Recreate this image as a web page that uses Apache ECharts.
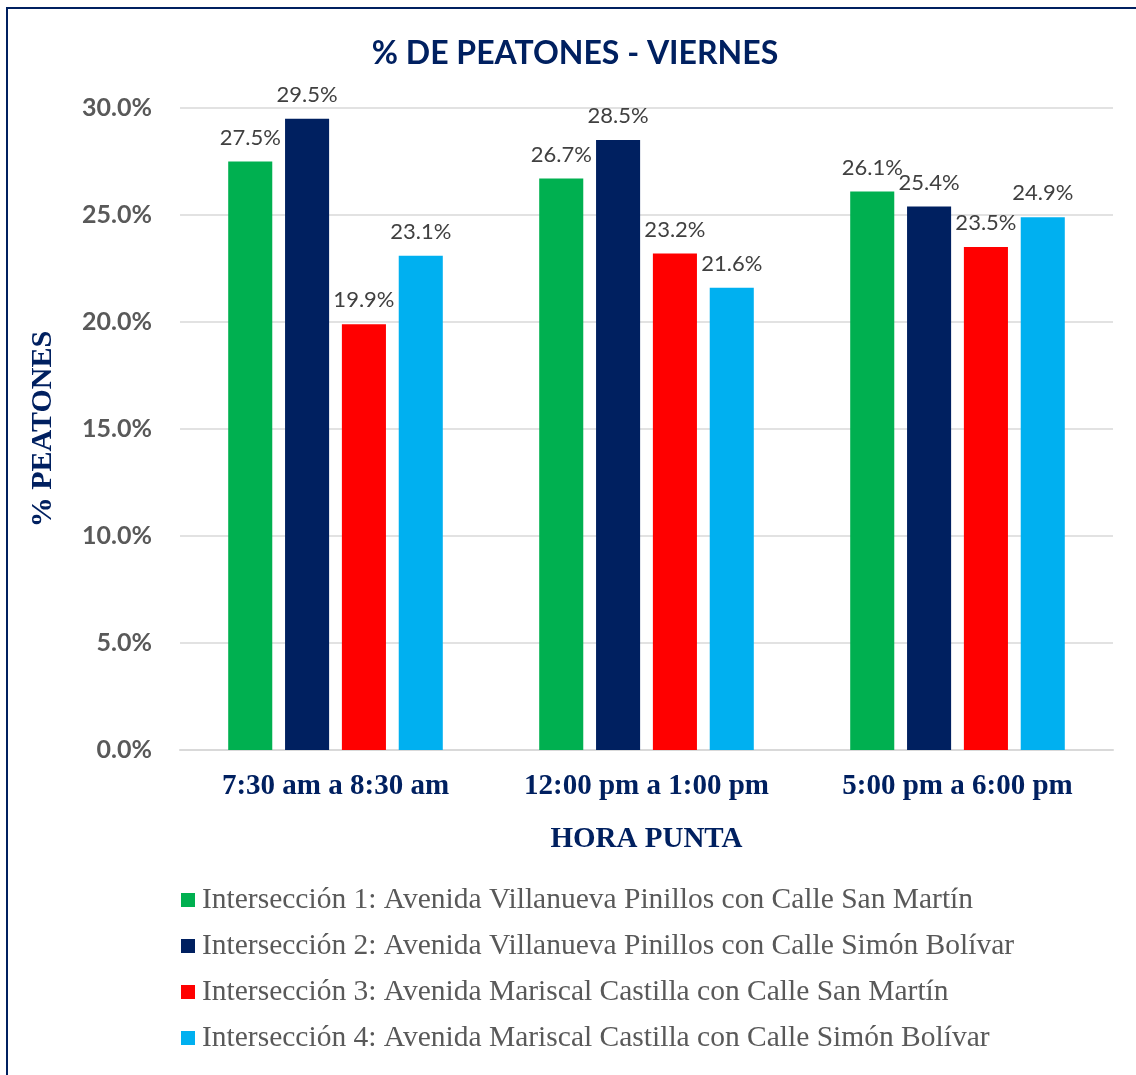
<!DOCTYPE html>
<html>
<head>
<meta charset="utf-8">
<script src="https://cdn.jsdelivr.net/npm/echarts@6/dist/echarts.min.js"></script>
<style>
    html, body { margin: 0; padding: 0; background: #fff; }
    #chart { width: 1136px; height: 1075px; }
</style>
</head>
<body>
<div id="chart"></div>
<script>
    // datos
    const categories = ['7:30 am a 8:30 am', '12:00 pm a 1:00 pm', '5:00 pm a 6:00 pm'];
    const seriesNames = [
        'Intersección 1: Avenida Villanueva Pinillos con Calle San Martín',
        'Intersección 2: Avenida Villanueva Pinillos con Calle Simón Bolívar',
        'Intersección 3: Avenida Mariscal Castilla con Calle San Martín',
        'Intersección 4: Avenida Mariscal Castilla con Calle Simón Bolívar'
    ];
    const inter1 = [27.5, 26.7, 26.1];
    const inter2 = [29.5, 28.5, 25.4];
    const inter3 = [19.9, 23.2, 23.5];
    const inter4 = [23.1, 21.6, 24.9];
    const colors = ['#00b050', '#002060', '#ff0000', '#00b0f0'];

    const allData = [inter1, inter2, inter3, inter4];

    let myChart = echarts.init(document.getElementById('chart'));
    myChart.setOption({
        animation: false,
        color: colors,
        title: {
            text: '% DE PEATONES - VIERNES',
            left: 570,
            top: 33,
            textAlign: 'center',
            textStyle: {
                color: '#002060',
                fontFamily: 'Lato',
                fontWeight: 'bold',
                fontSize: 32
            }
        },
        graphic: [{
            type: 'rect',
            shape: { x: 7, y: 8, width: 1140, height: 1080 },
            style: { fill: 'none', stroke: '#002060', lineWidth: 2 },
            silent: true
        }],
        grid: {
            left: 180,
            right: 23,
            top: 108,
            bottom: 325
        },
        legend: {
            orient: 'vertical',
            left: 176,
            top: 880,
            itemWidth: 14,
            itemHeight: 14,
            itemGap: 16,
            icon: 'rect',
            data: seriesNames,
            textStyle: {
                color: '#595959',
                fontFamily: 'Liberation Serif',
                fontSize: 29.5,
                padding: [0, 0, 0, 2]
            }
        },
        xAxis: {
            type: 'category',
            data: categories,
            name: 'HORA PUNTA',
            nameLocation: 'middle',
            nameGap: 75,
            nameTextStyle: {
                color: '#002060',
                fontFamily: 'Liberation Serif',
                fontWeight: 'bold',
                fontSize: 29
            },
            axisTick: { show: false },
            axisLine: { lineStyle: { color: '#d9d9d9', width: 2 } },
            axisLabel: {
                interval: 0,
                margin: 22,
                color: '#002060',
                fontFamily: 'Liberation Serif',
                fontWeight: 'bold',
                fontSize: 29
            }
        },
        yAxis: {
            type: 'value',
            min: 0,
            max: 30,
            interval: 5,
            name: '% PEATONES',
            nameLocation: 'middle',
            nameGap: 122,
            nameTextStyle: {
                color: '#002060',
                fontFamily: 'Liberation Serif',
                fontWeight: 'bold',
                fontSize: 30
            },
            axisLabel: {
                margin: 28,
                color: '#595959',
                fontFamily: 'Lato',
                fontWeight: 'bold',
                fontSize: 25,
                formatter: function (v) { return v.toFixed(1) + '%'; }
            },
            splitLine: { lineStyle: { color: '#d9d9d9', width: 1.5 } }
        },
        series: allData.map(function (d, i) {
            return {
                name: seriesNames[i],
                type: 'bar',
                data: d,
                barGap: '29%',
                barCategoryGap: '31%',
                label: {
                    show: true,
                    position: 'top',
                    distance: 13,
                    color: '#404040',
                    fontFamily: 'Lato',
                    fontSize: 22,
                    formatter: function (p) { return p.value.toFixed(1) + '%'; }
                }
            };
        })
    });
</script>
</body>
</html>
